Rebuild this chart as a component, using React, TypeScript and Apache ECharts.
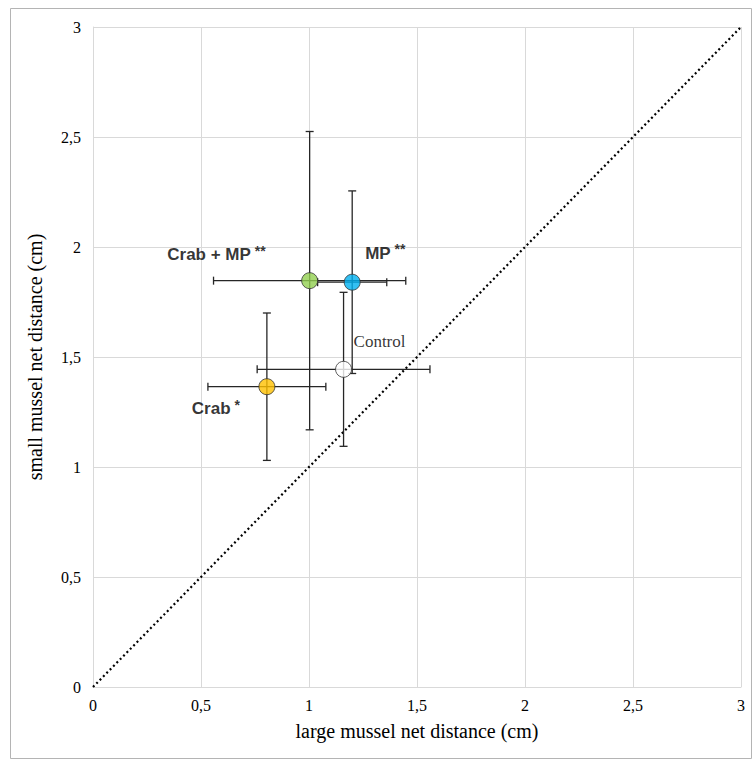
import React, { useEffect, useRef } from "react";
import * as echarts from "echarts";

const treatments = ["Control", "Crab", "MP", "Crab + MP"];
const labelTexts = ["Control", "Crab", "MP", "Crab + MP"];
const labelStars = ["", "*", "**", "**"];
const largeMean = [1.16, 0.805, 1.2, 1.003];
const largeErr = [0.4, 0.273, 0.16, 0.445];
const smallMean = [1.444, 1.365, 1.84, 1.847];
const smallErr = [0.35, 0.335, 0.415, 0.678];
const pointColors = ["#ffffff", "#ffc000", "#00b0f0", "#92d050"];
const diagonal = [
  [0, 0],
  [3, 3],
];

const labelLayouts = [
  { align: "left", offset: [10, -28] },
  { align: "right", offset: [-27, 22] },
  { align: "left", offset: [13, -29] },
  { align: "right", offset: [-44, -26] },
];

const fmt = (v: number) => String(v).replace(".", ",");
const SERIF = "Liberation Serif";

export default function App() {
  const ref = useRef<HTMLDivElement>(null);
  useEffect(() => {
    if (!ref.current) return;
    const chart = echarts.init(ref.current, null, { renderer: "svg" });
    const errData = treatments.map((_, i) => [largeMean[i], smallMean[i], largeErr[i], smallErr[i]]);
    const pointData = treatments.map((t, i) => {
      const lay = labelLayouts[i];
      const isControl = i === 0;
      return {
        name: t,
        value: [largeMean[i], smallMean[i]],
        itemStyle: { color: pointColors[i], borderColor: "#333", borderWidth: 1 },
        label: {
          show: true,
          position: "inside",
          align: lay.align,
          verticalAlign: "middle",
          offset: lay.offset,
          color: "#000",
          textBorderWidth: 0,
          formatter: isControl ? "{c|" + labelTexts[i] + "}" : "{b|" + labelTexts[i] + "}{s| " + labelStars[i] + "}",
          rich: {
            c: { fontFamily: SERIF, fontSize: 17, color: "#000", textBorderWidth: 0 },
            b: { fontFamily: "Liberation Sans", fontWeight: "bold", fontSize: 17, color: "#000", textBorderWidth: 0 },
            s: { fontFamily: "Liberation Sans", fontWeight: "bold", fontSize: 14, color: "#000", textBorderWidth: 0, padding: [0, 0, 8, 0] },
          },
        },
      };
    });
    const axisLabelStyle = {
      formatter: (v: number) => fmt(v),
      fontFamily: SERIF,
      fontSize: 16,
      color: "#000",
    };
    chart.setOption({
      animation: false,
      textStyle: { fontFamily: SERIF },
      grid: { left: 93, top: 27, right: 12, bottom: 73, containLabel: false },
      graphic: [
        {
          type: "rect",
          shape: { x: 10.5, y: 8.5, width: 741, height: 750 },
          style: { fill: "none", stroke: "#b4b4b4", lineWidth: 1 },
          silent: true,
        },
      ],
      xAxis: {
        type: "value",
        min: 0,
        max: 3,
        interval: 0.5,
        name: "large mussel net distance (cm)",
        nameLocation: "middle",
        nameGap: 34,
        nameTextStyle: { fontFamily: SERIF, fontSize: 20, color: "#000" },
        axisLine: { show: true, lineStyle: { color: "#d9d9d9", width: 1 } },
        axisTick: { show: false },
        axisLabel: { ...axisLabelStyle, margin: 10 },
        splitLine: { show: true, lineStyle: { color: "#d9d9d9", width: 1 } },
      },
      yAxis: {
        type: "value",
        min: 0,
        max: 3,
        interval: 0.5,
        name: "small mussel net distance (cm)",
        nameLocation: "middle",
        nameGap: 48,
        nameRotate: 90,
        nameTextStyle: { fontFamily: SERIF, fontSize: 20, color: "#000" },
        axisLine: { show: true, lineStyle: { color: "#d9d9d9", width: 1 } },
        axisTick: { show: false },
        axisLabel: { ...axisLabelStyle, margin: 12 },
        splitLine: { show: true, lineStyle: { color: "#d9d9d9", width: 1 } },
      },
      series: [
        {
          type: "line",
          data: diagonal,
          symbol: "none",
          silent: true,
          z: 1,
          lineStyle: { color: "#000", width: 2.2, type: [2, 2.8] },
        },
        {
          type: "custom",
          z: 2,
          silent: true,
          data: errData,
          renderItem: (params: any, api: any) => {
            const x = api.value(0);
            const y = api.value(1);
            const ex = api.value(2);
            const ey = api.value(3);
            const l = api.coord([x - ex, y]);
            const r = api.coord([x + ex, y]);
            const t = api.coord([x, y + ey]);
            const b = api.coord([x, y - ey]);
            const cap = 4;
            const st = { stroke: "#262626", lineWidth: 1.3 };
            const ln = (x1: number, y1: number, x2: number, y2: number) => ({
              type: "line",
              shape: { x1, y1, x2, y2 },
              style: st,
            });
            return {
              type: "group",
              children: [
                ln(l[0], l[1], r[0], r[1]),
                ln(l[0], l[1] - cap, l[0], l[1] + cap),
                ln(r[0], r[1] - cap, r[0], r[1] + cap),
                ln(t[0], t[1], b[0], b[1]),
                ln(t[0] - cap, t[1], t[0] + cap, t[1]),
                ln(b[0] - cap, b[1], b[0] + cap, b[1]),
              ],
            };
          },
        },
        {
          type: "scatter",
          z: 3,
          symbol: "circle",
          symbolSize: 16,
          data: pointData,
        },
      ],
    });
    return () => chart.dispose();
  }, []);
  return <div ref={ref} style={{ position: "absolute", left: 0, top: 0, width: 753, height: 760 }} />;
}
